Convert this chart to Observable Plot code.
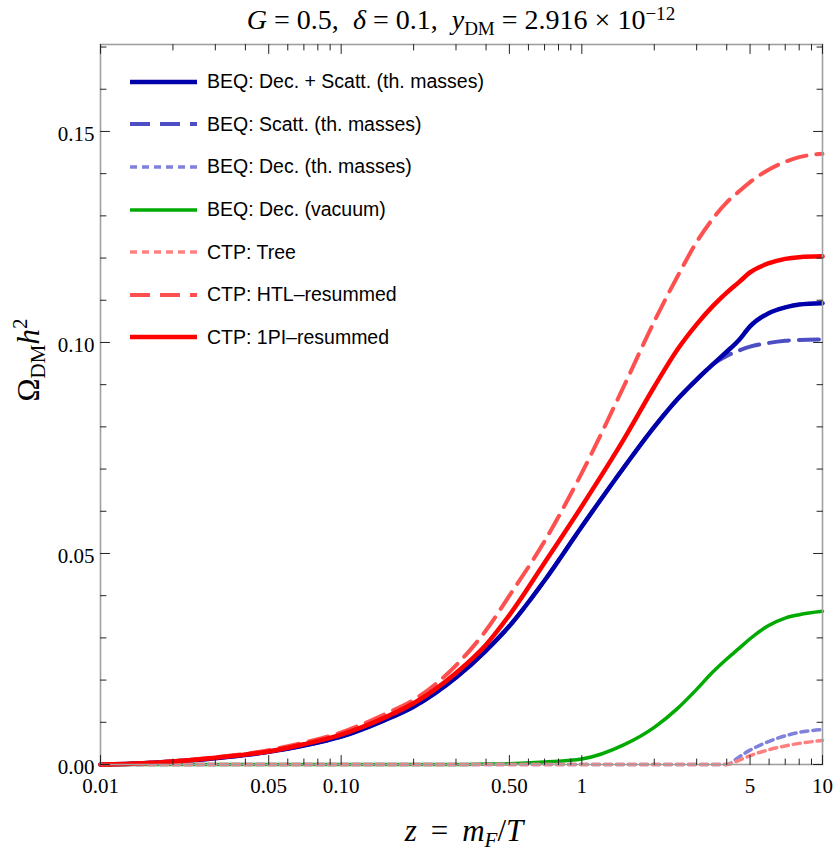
<!DOCTYPE html>
<html>
<head>
<meta charset="utf-8">
<script src="https://cdn.jsdelivr.net/npm/d3@7"></script>
<script src="https://cdn.jsdelivr.net/npm/@observablehq/plot@0.6"></script>
<style>
  html, body { margin: 0; padding: 0; background: #fff; }
  #wrap { position: relative; width: 834px; height: 859px; }
  .math { font-family: "Liberation Serif", "DejaVu Serif", serif; color: #000; position: absolute; white-space: nowrap; line-height: 1; }
  .math sub, .math sup { font-size: 0.68em; line-height: 0; position: relative; vertical-align: baseline; }
  .math sub { top: 0.3em; }
  .math sup { top: -0.55em; }
  #title sup { top: -0.48em; }
  #legend { position: absolute; left: 130px; top: 60px; font-family: "Liberation Sans", Arial, sans-serif; font-size: 19.5px; color: #000; }
  .row { position: absolute; left: 0; height: 24px; display: flex; align-items: center; white-space: nowrap; }
  .row svg { margin-right: 10px; }
</style>
</head>
<body>
<div id="wrap"></div>
<script>
// ---- data ----
const zGrid = [0.01, 0.015, 0.02, 0.03, 0.05, 0.07, 0.1, 0.15, 0.2, 0.3, 0.4, 0.5, 0.7, 1, 1.5, 2, 2.5, 3, 3.5, 4, 4.5, 5, 6, 7, 8, 10];

const beqDecScatt = [0, 0.0003, 0.0007, 0.0015, 0.0030, 0.0045, 0.0066, 0.0104, 0.0137, 0.0206, 0.0270, 0.0328, 0.0436, 0.0564, 0.0705, 0.0800, 0.0866, 0.0912, 0.0948, 0.0978, 0.1006, 0.1038, 0.1070, 0.1083, 0.1090, 0.1093];
const beqScatt    = [0, 0.0003, 0.0007, 0.0015, 0.0030, 0.0045, 0.0066, 0.0104, 0.0137, 0.0206, 0.0270, 0.0328, 0.0436, 0.0564, 0.0705, 0.0800, 0.0866, 0.0912, 0.0948, 0.0968, 0.0981, 0.0990, 0.0999, 0.1004, 0.1006, 0.1007];
const beqDecTh    = [0, 0, 0, 0, 0, 0, 0, 0, 0, 0, 0, 0, 0, 0, 0, 0, 0, 0, 0, 0, 0.0018, 0.0034, 0.0055, 0.0068, 0.0076, 0.0083];
const beqDecVac   = [0, 0, 0, 0, 0, 0, 0, 0, 0, 0, 0.0001, 0.0002, 0.0006, 0.0013, 0.0047, 0.0088, 0.0133, 0.0178, 0.0219, 0.0250, 0.0275, 0.0298, 0.0330, 0.0347, 0.0355, 0.0363];
const ctpTree     = [0, 0, 0, 0, 0, 0, 0, 0, 0, 0, 0, 0, 0, 0, 0, 0, 0, 0, 0, 0, 0.0010, 0.0021, 0.0035, 0.0044, 0.0050, 0.0057];
const ctpHTL      = [0, 0.0003, 0.0008, 0.0017, 0.0034, 0.0052, 0.0076, 0.0118, 0.0153, 0.0235, 0.0318, 0.0400, 0.0529, 0.0691, 0.0898, 0.1050, 0.1157, 0.1238, 0.1293, 0.1332, 0.1358, 0.1380, 0.1410, 0.1428, 0.1439, 0.1447];
const ctp1PI      = [0, 0.0003, 0.0007, 0.0016, 0.0031, 0.0048, 0.0071, 0.0110, 0.0145, 0.0217, 0.0284, 0.0354, 0.0478, 0.0612, 0.0772, 0.0895, 0.0984, 0.1043, 0.1086, 0.1118, 0.1143, 0.1166, 0.1188, 0.1198, 0.1202, 0.1204];

const seriesNames = [
  "BEQ: Dec. + Scatt. (th. masses)",
  "BEQ: Scatt. (th. masses)",
  "BEQ: Dec. (th. masses)",
  "BEQ: Dec. (vacuum)",
  "CTP: Tree",
  "CTP: HTL\u2013resummed",
  "CTP: 1PI\u2013resummed"
];
const seriesValues = [beqDecScatt, beqScatt, beqDecTh, beqDecVac, ctpTree, ctpHTL, ctp1PI];

const xMajor = [0.01, 0.05, 0.1, 0.5, 1, 5, 10];
const xMajorLabels = ["0.01", "0.05", "0.10", "0.50", "1", "5", "10"];
const xMinor = [0.02, 0.03, 0.04, 0.06, 0.07, 0.08, 0.09, 0.2, 0.3, 0.4, 0.6, 0.7, 0.8, 0.9, 2, 3, 4, 6, 7, 8, 9];
const yMajor = [0, 0.05, 0.1, 0.15];
const yMajorLabels = ["0.00", "0.05", "0.10", "0.15"];
const yMinor = [0.01, 0.02, 0.03, 0.04, 0.06, 0.07, 0.08, 0.09, 0.11, 0.12, 0.13, 0.14, 0.16, 0.17];

// ---- styles (separate from data) ----
const styles = [
  {stroke: "#0000aa", width: 4.5, dash: null},
  {stroke: "#4d4dc4", width: 4,   dash: "20,10"},
  {stroke: "#8080dd", width: 3.5, dash: "7,5"},
  {stroke: "#00aa00", width: 3.5, dash: null},
  {stroke: "#ff8080", width: 3.5, dash: "7,5"},
  {stroke: "#ff5050", width: 4,   dash: "20,10"},
  {stroke: "#ff0000", width: 4.5, dash: null}
];
const drawOrder = [1, 0, 3, 2, 4, 5, 6];

const tables = seriesValues.map(vals => zGrid.map((z, i) => ({z, v: vals[i]})));

const xFmt = d => xMajorLabels[xMajor.indexOf(d)];
const yFmt = d => yMajorLabels[yMajor.indexOf(d)];

// plain line shape for tick marks (no arrow head)
const tickShape = {draw(context, l) { context.moveTo(0, 0); context.lineTo(0, -l); }};
const tickStyle = {stroke: "#222", strokeWidth: 1, anchor: "start", shape: tickShape};

const plot = Plot.plot({
  width: 834,
  height: 859,
  marginTop: 44,
  marginRight: 12,
  marginBottom: 95,
  marginLeft: 100,
  style: {fontFamily: "'Liberation Serif', serif", fontSize: "21px", background: "transparent", color: "#000"},
  x: {type: "log", domain: [0.01, 10], axis: null},
  y: {domain: [0, 0.1706], axis: null},
  marks: [
    ...drawOrder.map(i => Plot.line(tables[i], {
      x: "z", y: "v", curve: "monotone-x",
      stroke: styles[i].stroke, strokeWidth: styles[i].width,
      strokeDasharray: styles[i].dash
    })),
    Plot.frame({stroke: "#a0a0a0", strokeWidth: 1.6}),
    // inward ticks, bottom & top
    Plot.vectorX(xMajor, {x: d => d, frameAnchor: "bottom", rotate: 0, length: 9, ...tickStyle}),
    Plot.vectorX(xMinor, {x: d => d, frameAnchor: "bottom", rotate: 0, length: 5.5, ...tickStyle}),
    Plot.vectorX(xMajor, {x: d => d, frameAnchor: "top", rotate: 180, length: 9, ...tickStyle}),
    Plot.vectorX(xMinor, {x: d => d, frameAnchor: "top", rotate: 180, length: 5.5, ...tickStyle}),
    // inward ticks, left & right
    Plot.vectorY(yMajor, {y: d => d, frameAnchor: "left", rotate: 90, length: 9, ...tickStyle}),
    Plot.vectorY(yMinor, {y: d => d, frameAnchor: "left", rotate: 90, length: 5.5, ...tickStyle}),
    Plot.vectorY(yMajor, {y: d => d, frameAnchor: "right", rotate: -90, length: 9, ...tickStyle}),
    Plot.vectorY(yMinor, {y: d => d, frameAnchor: "right", rotate: -90, length: 5.5, ...tickStyle}),
    // tick labels
    Plot.text(xMajor, {x: d => d, frameAnchor: "bottom", dy: 28, text: xFmt, fontSize: 21, fill: "#000"}),
    Plot.text(yMajor, {y: d => d, frameAnchor: "left", textAnchor: "end", dx: -6, dy: 3, text: yFmt, fontSize: 21, fill: "#000"})
  ]
});

const wrap = document.getElementById("wrap");
wrap.appendChild(plot);

// title and axis labels
const title = document.createElement("div");
title.className = "math";
title.id = "title";
title.style.cssText = "left:461px; top:20px; transform:translate(-50%,-50%); font-size:28px;";
title.innerHTML = "<i>G</i> = 0.5, &nbsp;<i>δ</i> = 0.1, &nbsp;<i>y</i><sub>DM</sub> = 2.916 × 10<sup>−12</sup>";
wrap.appendChild(title);

const xl = document.createElement("div");
xl.className = "math";
xl.style.cssText = "left:464px; top:830px; transform:translate(-50%,-50%); font-size:31px;";
xl.innerHTML = "<i>z</i>&thinsp; = &thinsp;<i>m<sub>F</sub></i>/<i>T</i>";
wrap.appendChild(xl);

const yl = document.createElement("div");
yl.className = "math";
yl.style.cssText = "left:28px; top:360px; transform:translate(-50%,-50%) rotate(-90deg); font-size:31px;";
yl.innerHTML = "Ω<sub>DM</sub><i>h</i><sup>2</sup>";
wrap.appendChild(yl);

// legend
const legend = document.createElement("div");
legend.id = "legend";
seriesNames.forEach((name, i) => {
  const row = document.createElement("div");
  row.className = "row";
  row.style.top = (i * 42.6 + 9.7) + "px";
  const s = styles[i];
  row.innerHTML = `<svg width="67" height="10"><line x1="0" y1="5" x2="67" y2="5" stroke="${s.stroke}" stroke-width="${s.width}" ${s.dash ? `stroke-dasharray="${s.dash}"` : ""}/></svg><span>${name}</span>`;
  legend.appendChild(row);
});
wrap.appendChild(legend);
</script>
</body>
</html>
